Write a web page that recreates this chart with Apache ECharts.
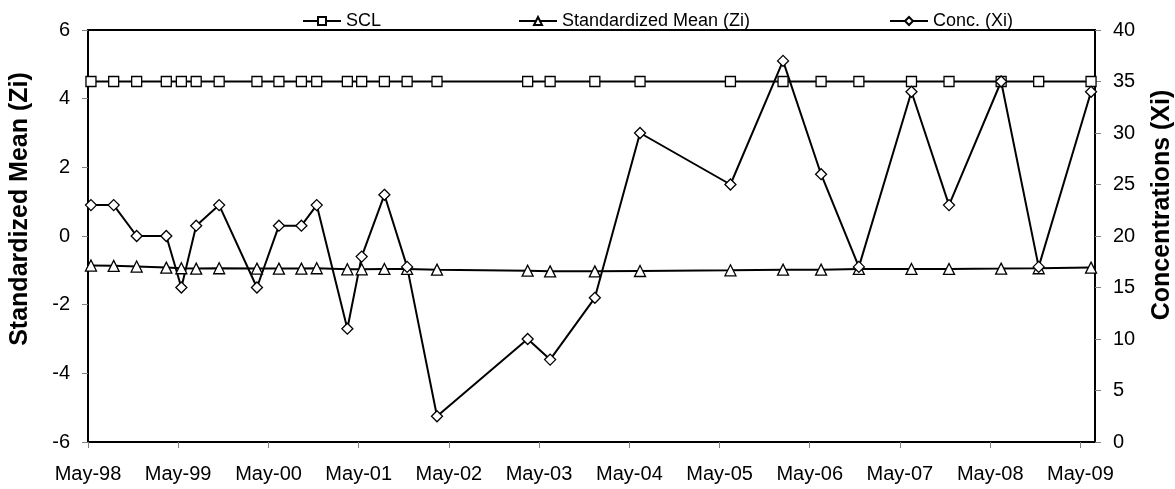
<!DOCTYPE html>
<html>
<head>
<meta charset="utf-8">
<script src="https://cdn.jsdelivr.net/npm/echarts@6/dist/echarts.min.js"></script>
<style>
html,body{margin:0;padding:0;background:#fff;}
#chart{width:1175px;height:489px;}
</style>
</head>
<body>
<div id="chart"></div>
<script>
// ---- data ----
const sampleDates = [
  '1998-05-13','1998-08-13','1998-11-14','1999-03-14','1999-05-14','1999-07-13','1999-10-14',
  '2000-03-15','2000-06-12','2000-09-11','2000-11-12','2001-03-16','2001-05-13','2001-08-13',
  '2001-11-13','2002-03-14','2003-03-16','2003-06-15','2003-12-13','2004-06-13','2005-06-14',
  '2006-01-13','2006-06-16','2006-11-16','2007-06-17','2007-11-16','2008-06-14','2008-11-13',
  '2009-06-13'
];
const sclValues = [4.5,4.5,4.5,4.5,4.5,4.5,4.5,4.5,4.5,4.5,4.5,4.5,4.5,4.5,4.5,4.5,4.5,4.5,4.5,4.5,4.5,4.5,4.5,4.5,4.5,4.5,4.5,4.5,4.5];
const stdMeanValues = [
  -0.86,-0.87,-0.89,-0.92,-0.94,-0.95,-0.94,-0.95,-0.95,-0.95,-0.94,-0.97,-0.97,-0.96,
  -0.96,-0.98,-1.01,-1.03,-1.03,-1.02,-1.00,-0.98,-0.98,-0.96,-0.96,-0.96,-0.95,-0.94,
  -0.92
];
const concValues = [
  23,23,20,20,15,21,23,15,21,21,23,11,18,24,17,2.5,10,8,14,30,25,37,26,17,34,23,35,17,34
];
const seriesNames = ['SCL', 'Standardized Mean (Zi)', 'Conc. (Xi)'];
const tickYears = [1998,1999,2000,2001,2002,2003,2004,2005,2006,2007,2008,2009];
const monthNames = ['Jan','Feb','Mar','Apr','May','Jun','Jul','Aug','Sep','Oct','Nov','Dec'];
const axisStart = '1998-05-01';
const axisEnd = '2009-06-29';
const leftTitle = 'Standardized Mean (Zi)';
const rightTitle = 'Concentrations (Xi)';

// ---- build ----
const ts = s => { const p = s.split('-').map(Number); return Date.UTC(p[0], p[1]-1, p[2]); };
const xs = sampleDates.map(ts);
const tickValues = tickYears.map(y => Date.UTC(y, 4, 1));
const pair = vals => xs.map((x, i) => [x, vals[i]]);
const fmtDate = v => { const d = new Date(v); return monthNames[d.getUTCMonth()] + '-' + String(d.getUTCFullYear() % 100).padStart(2, '0'); };

const FONT = '"Liberation Sans", Arial, sans-serif';
const txt = {color:'#000', fontFamily: FONT, fontSize: 20};

const chart = echarts.init(document.getElementById('chart'), null, {renderer:'canvas'});
const lineCommon = (sym, size) => ({
  type:'line', symbol: sym, symbolSize: size, showSymbol: true,
  lineStyle:{color:'#000', width:2},
  itemStyle:{color:'#fff', borderColor:'#000', borderWidth:1.3},
  emphasis:{disabled:true}, animation:false
});
const legendBase = (name, left) => ({
  data:[name], left: left, top: 7, itemWidth: 38, itemHeight: 10, itemGap: 6,
  textStyle:{color:'#000', fontFamily: FONT, fontSize: 18}, selectedMode:false
});

chart.setOption({
  animation:false,
  backgroundColor:'#fff',
  grid:{left:88, right:80, top:30, bottom:47, show:true, borderColor:'#000', borderWidth:2, backgroundColor:'transparent'},
  legend:[
    legendBase(seriesNames[0], 297),
    legendBase(seriesNames[1], 513),
    legendBase(seriesNames[2], 884)
  ],
  xAxis:{
    type:'value', min: ts(axisStart), max: ts(axisEnd),
    axisLine:{show:true, onZero:false, lineStyle:{color:'#000', width:2}},
    axisTick:{show:true, customValues: tickValues, length:6, lineStyle:{color:'#808080', width:1}},
    axisLabel:Object.assign({customValues: tickValues, margin:22, formatter: fmtDate}, txt),
    splitLine:{show:false}
  },
  yAxis:[
    {type:'value', min:-6, max:6, interval:2, position:'left',
     axisLine:{show:true, onZero:false, lineStyle:{color:'#000', width:2}},
     axisTick:{show:true, length:6, lineStyle:{color:'#808080', width:1}},
     axisLabel:Object.assign({margin:18}, txt),
     splitLine:{show:false}},
    {type:'value', min:0, max:40, interval:5, position:'right',
     axisLine:{show:true, onZero:false, lineStyle:{color:'#000', width:2}},
     axisTick:{show:true, length:6, lineStyle:{color:'#808080', width:1}},
     axisLabel:Object.assign({margin:18}, txt),
     splitLine:{show:false}}
  ],
  graphic:[
    {type:'text', x:20, y:209, rotation: Math.PI/2,
     style:{text:leftTitle, fill:'#000', font:'bold 25px "Liberation Sans", Arial, sans-serif', align:'center', verticalAlign:'middle'}},
    {type:'text', x:1162, y:205, rotation: Math.PI/2,
     style:{text:rightTitle, fill:'#000', font:'bold 25px "Liberation Sans", Arial, sans-serif', align:'center', verticalAlign:'middle'}}
  ],
  series:[
    Object.assign(lineCommon('rect', 10), {name:seriesNames[0], yAxisIndex:0, data: pair(sclValues)}),
    Object.assign(lineCommon('triangle', 11), {name:seriesNames[1], yAxisIndex:0, data: pair(stdMeanValues)}),
    Object.assign(lineCommon('diamond', 11), {name:seriesNames[2], yAxisIndex:1, data: pair(concValues)})
  ]
});
</script>
</body>
</html>
